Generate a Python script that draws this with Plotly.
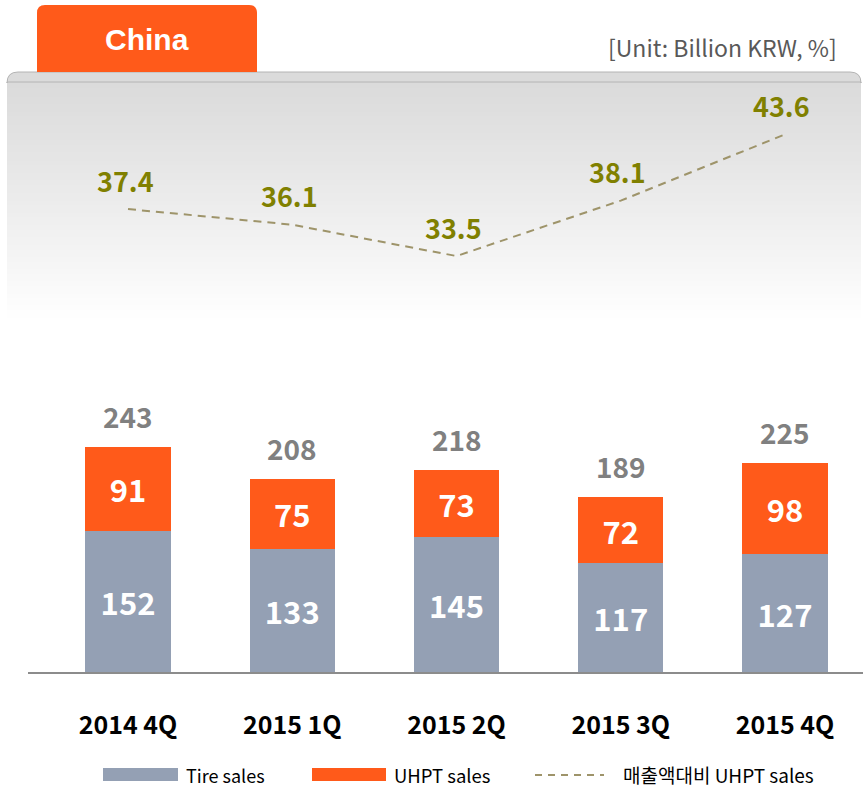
import plotly.graph_objects as go

categories = ["2014 4Q", "2015 1Q", "2015 2Q", "2015 3Q", "2015 4Q"]
tire_sales = [152, 133, 145, 117, 127]
uhpt_sales = [91, 75, 73, 72, 98]
total_sales = [243, 208, 218, 189, 225]
uhpt_ratio = [37.4, 36.1, 33.5, 38.1, 43.6]
ratio_labels = ["37.4", "36.1", "33.5", "38.1", "43.6"]

GRAY = "#94A0B4"
ORANGE = "#FF5A1A"
LINE = "#9E946A"
OLIVE = "#808000"
KFONT = "Noto Sans CJK KR"

W, H = 863, 788
ML, MR, MT, MB = 28, 0, 60, 116
PW, PH = W - ML - MR, H - MT - MB


def px(x):
    return (x - ML) / PW


def py(y):
    return (H - MB - y) / PH


fig = go.Figure()

fig.add_trace(go.Bar(
    x=categories, y=tire_sales, name="Tire sales", marker_color=GRAY,
    marker_line_width=0, width=0.52,
    text=[str(v) for v in tire_sales], textposition="inside",
    insidetextanchor="middle",
    textfont=dict(family=KFONT, size=31, color="white", weight="bold"),
))
fig.add_trace(go.Bar(
    x=categories, y=uhpt_sales, name="UHPT sales", marker_color=ORANGE,
    marker_line_width=0, width=0.52,
    text=[str(v) for v in uhpt_sales], textposition="inside",
    insidetextanchor="middle",
    textfont=dict(family=KFONT, size=31, color="white", weight="bold"),
))
fig.add_trace(go.Scatter(
    x=categories, y=uhpt_ratio, name="매출액대비 UHPT sales", yaxis="y2",
    mode="lines", line=dict(color=LINE, width=2, dash="8px,6px"),
))

annotations = []
for c, t in zip(categories, total_sales):
    annotations.append(dict(
        x=c, y=t, xref="x", yref="y", text=str(t), showarrow=False,
        xanchor="center", yanchor="middle", yshift=31,
        font=dict(family=KFONT, size=28, color="#808080", weight="bold"),
    ))
for c, r, lab in zip(categories, uhpt_ratio, ratio_labels):
    annotations.append(dict(
        x=c, y=r, xref="x", yref="y2", text=lab, showarrow=False,
        xanchor="center", yanchor="middle", yshift=29, xshift=-3,
        font=dict(family=KFONT, size=27, color=OLIVE, weight="bold"),
    ))

annotations.append(dict(
    x=px(147), y=py(40), xref="paper", yref="paper", text="China", showarrow=False,
    xanchor="center", yanchor="middle",
    font=dict(family="Liberation Sans, Arial", size=30, color="white", weight="bold"),
))
annotations.append(dict(
    x=px(839), y=py(47), xref="paper", yref="paper", text="[Unit: Billion KRW, %]",
    showarrow=False, xanchor="right", yanchor="middle",
    font=dict(family=KFONT, size=23, color="#595959"),
))

# legend (manual)
leg_items = [("Tire sales", 184, 18), ("UHPT sales", 392, 18.5),
             ("매출액대비 UHPT sales", 621, 19)]
for txt, xpos, fs in leg_items:
    annotations.append(dict(
        x=px(xpos), y=py(774.5), xref="paper", yref="paper", text=txt, showarrow=False,
        xanchor="left", yanchor="middle",
        font=dict(family=KFONT, size=fs, color="#000000"),
    ))

shapes = []
# gradient panel as overlapping strips
top_c = 219
y0, y1 = 80, 322
n = 60
for i in range(n):
    ya = y0 + (y1 - y0) * i / n
    yb = y0 + (y1 - y0) * (i + 1) / n + 1.5
    t = i / (n - 1)
    v = int(round(top_c + (255 - top_c) * (t ** 1.1)))
    col = f"rgb({v},{v},{v})"
    shapes.append(dict(type="rect", xref="paper", yref="paper",
                       x0=px(7), x1=px(861), y0=py(yb), y1=py(ya),
                       fillcolor=col, line_width=0, layer="below"))
# rounded top of panel
r = 11
path = (f"M {px(7)},{py(82)} L {px(7)},{py(72 + r)} "
        f"Q {px(7)},{py(72)} {px(7 + r)},{py(72)} "
        f"L {px(861 - r)},{py(72)} Q {px(861)},{py(72)} {px(861)},{py(72 + r)} "
        f"L {px(861)},{py(82)} Z")
shapes.append(dict(type="path", xref="paper", yref="paper", path=path,
                   fillcolor="rgb(219,219,219)", line=dict(color="#B4B4B4", width=1),
                   layer="below"))
# orange tab with rounded top
r2 = 8
tab = (f"M {px(37)},{py(72)} L {px(37)},{py(5 + r2)} "
       f"Q {px(37)},{py(5)} {px(37 + r2)},{py(5)} "
       f"L {px(257 - r2)},{py(5)} Q {px(257)},{py(5)} {px(257)},{py(5 + r2)} "
       f"L {px(257)},{py(72)} Z")
shapes.append(dict(type="path", xref="paper", yref="paper", path=tab,
                   fillcolor=ORANGE, line_width=0, layer="below"))

# legend swatches
shapes.append(dict(type="rect", xref="paper", yref="paper",
                   x0=px(103), x1=px(178), y0=py(781), y1=py(768),
                   fillcolor=GRAY, line_width=0))
shapes.append(dict(type="rect", xref="paper", yref="paper",
                   x0=px(312), x1=px(386), y0=py(781), y1=py(768),
                   fillcolor=ORANGE, line_width=0))
shapes.append(dict(type="line", xref="paper", yref="paper",
                   x0=px(535), x1=px(604), y0=py(775), y1=py(775),
                   line=dict(color=LINE, width=2, dash="7px,6px")))

fig.update_layout(
    width=W, height=H,
    margin=dict(l=ML, r=MR, t=MT, b=MB),
    paper_bgcolor="white", plot_bgcolor="rgba(0,0,0,0)",
    barmode="stack", showlegend=False,
    xaxis=dict(
        type="category", range=[-0.609, 4.475],
        showline=True, linecolor="#8C8C8C", linewidth=2,
        showgrid=False, zeroline=False,
        ticks="outside", ticklen=30, tickcolor="rgba(0,0,0,0)",
        tickfont=dict(family=KFONT, size=25, color="#000000", weight="bold"),
    ),
    yaxis=dict(range=[0, 659.5], visible=False, showgrid=False, zeroline=False),
    yaxis2=dict(range=[-1.02, 49.77], overlaying="y", visible=False,
                showgrid=False, zeroline=False),
    annotations=annotations,
    shapes=shapes,
    uniformtext=dict(mode="show", minsize=10),
)

fig.write_html(
    "out.html",
    config={"displayModeBar": False},
    post_script="document.body.style.margin='0';document.body.style.overflow='hidden';",
)
